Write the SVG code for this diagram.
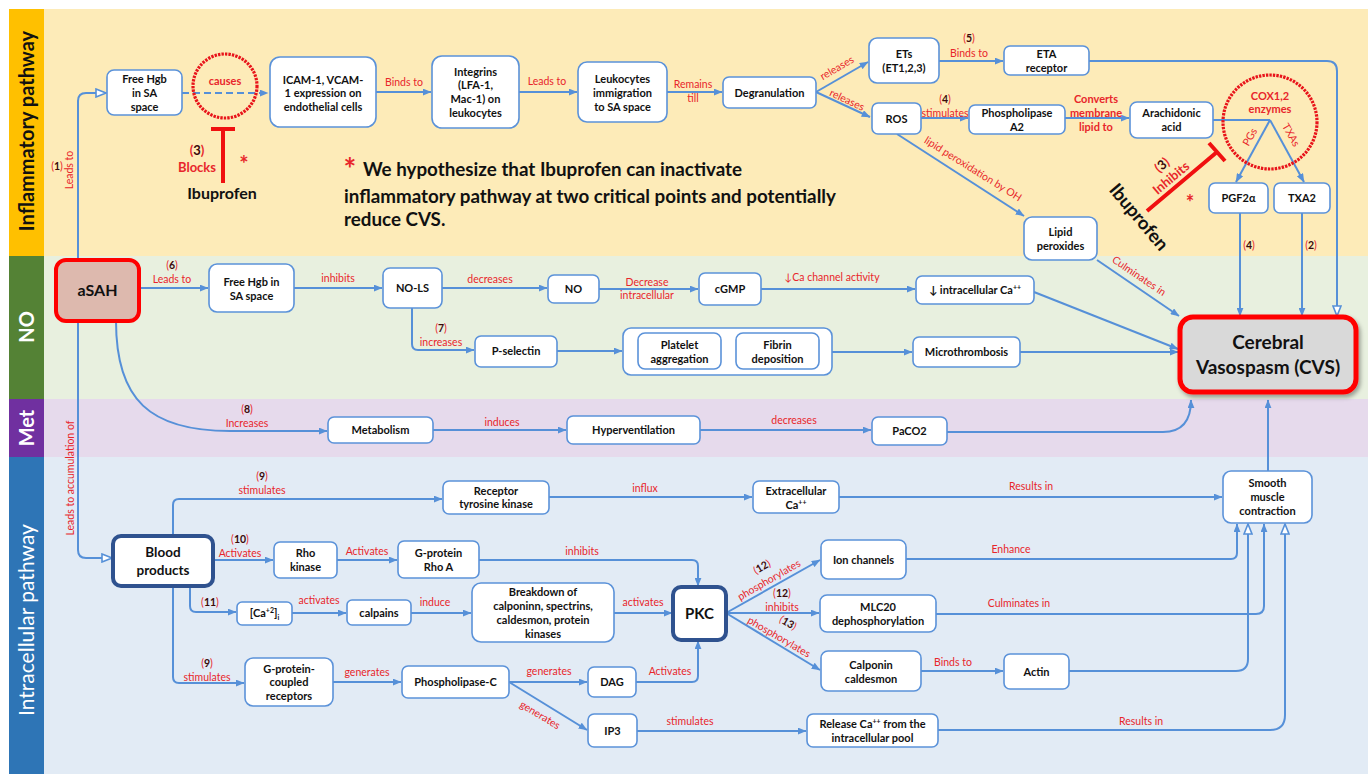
<svg xmlns="http://www.w3.org/2000/svg" width="1368" height="774" viewBox="0 0 1368 774">
<style>
.box{fill:#fff;stroke:#5B92D9;stroke-width:1.6}
.t{font-family:Lato,"Liberation Sans",sans-serif;font-weight:bold;font-size:11px;fill:#111;text-anchor:middle}
.l{font-family:Lato,"Liberation Sans",sans-serif;font-size:10.5px;fill:#E8262B;text-anchor:middle}
.lb{font-family:Lato,"Liberation Sans",sans-serif;font-size:11px;font-weight:bold;fill:#E8262B;text-anchor:middle}
.n{fill:#3A0A0A;font-weight:bold}
.c{fill:none;stroke:#5690D8;stroke-width:2}
.band{font-family:Lato,"Liberation Sans",sans-serif;font-size:20px;font-weight:bold;text-anchor:middle}
.ring{fill:none;stroke:#E8141A;stroke-width:3.2;stroke-dasharray:2.4 1.1}
.inh{stroke:#F01010;stroke-width:4;fill:none}
.hyp{font-family:Lato,"Liberation Sans",sans-serif;font-weight:bold;font-size:18.8px;fill:#111;text-anchor:start}
</style>
<defs>
<marker id="a" viewBox="0 0 10 8" refX="9.5" refY="4" markerWidth="9" markerHeight="7" markerUnits="userSpaceOnUse" orient="auto"><path d="M0,0 L10,4 L0,8 z" fill="#5690D8"/></marker>
<marker id="o" viewBox="0 0 12 10" refX="11" refY="5" markerWidth="12" markerHeight="10" markerUnits="userSpaceOnUse" orient="auto"><path d="M1,1 L11,5 L1,9 z" fill="#fff" stroke="#5690D8" stroke-width="1.6"/></marker>
<filter id="sh" x="-10%" y="-10%" width="125%" height="130%"><feDropShadow dx="2" dy="3" stdDeviation="2" flood-color="#000" flood-opacity="0.35"/></filter>
</defs>
<rect width="1368" height="774" fill="#fff"/>
<g id="lanes">
<rect x="9" y="9" width="1359" height="247" fill="#FDEBB8"/>
<rect x="9" y="256" width="1359" height="143" fill="#E8F0DF"/>
<rect x="9" y="399" width="1359" height="58" fill="#E6DAEC"/>
<rect x="9" y="457" width="1359" height="317" fill="#E2EBF5"/>
<rect x="9" y="9" width="35" height="247" fill="#FFC000"/>
<rect x="9" y="256" width="35" height="143" fill="#548235"/>
<rect x="9" y="399" width="35" height="58" fill="#7030A0"/>
<rect x="9" y="457" width="35" height="317" fill="#2E75B6"/>
<text class="band" transform="translate(26.5,131) rotate(-90)" x="0" y="7" fill="#111">Inflammatory pathway</text>
<text class="band" transform="translate(26.5,327) rotate(-90)" x="0" y="7" fill="#fff">NO</text>
<text class="band" transform="translate(26.5,428) rotate(-90)" x="0" y="7" fill="#fff">Met</text>
<text class="band" transform="translate(26.5,620) rotate(-90)" x="0" y="7" fill="#fff" style="font-weight:normal;font-size:21px">Intracellular pathway</text>
</g>

<g id="connectors">
<path class="c" d="M78,260 L78,101 Q78,93 86,93 L106,93" marker-end="url(#o)"/>
<path class="c" d="M182,93 L268,93" stroke-dasharray="7 4" marker-end="url(#a)"/>
<path class="c" d="M376,92 L431,92" marker-end="url(#a)"/>
<path class="c" d="M519,92 L577,92" marker-end="url(#a)"/>
<path class="c" d="M667,92 L722,92" marker-end="url(#a)"/>
<path class="c" d="M816,92 L868,62" marker-end="url(#a)"/>
<path class="c" d="M816,92 L870,117" marker-end="url(#a)"/>
<path class="c" d="M939,61 L1003,61" marker-end="url(#a)"/>
<path class="c" d="M1089,61 L1327,61 Q1337,61 1337,71 L1337,316" marker-end="url(#o)"/>
<path class="c" d="M921,118 L968,118" marker-end="url(#a)"/>
<path class="c" d="M1065,118 L1129,118" marker-end="url(#a)"/>
<path class="c" d="M1213,120 L1270,120"/>
<path class="c" d="M1270,120 L1236,182" marker-end="url(#a)"/>
<path class="c" d="M1270,120 L1304,182" marker-end="url(#a)"/>
<path class="c" d="M897,134 L1024,216" marker-end="url(#a)"/>
<path class="c" d="M1240,213 L1240,316" marker-end="url(#a)"/>
<path class="c" d="M1302,213 L1302,316" marker-end="url(#a)"/>
<path class="c" d="M1097,260 L1179,316" marker-end="url(#a)"/>
<path class="c" d="M139,288 L208,288" marker-end="url(#a)"/>
<path class="c" d="M294,288 L382,288" marker-end="url(#a)"/>
<path class="c" d="M442,288 L547,288" marker-end="url(#a)"/>
<path class="c" d="M599,289 L698,289" marker-end="url(#a)"/>
<path class="c" d="M761,289 L915,289" marker-end="url(#a)"/>
<path class="c" d="M1034,292 L1178,349" marker-end="url(#a)"/>
<path class="c" d="M412,308 L412,344 Q412,350 418,350 L474,350" marker-end="url(#a)"/>
<path class="c" d="M557,351 L622,351" marker-end="url(#a)"/>
<path class="c" d="M832,352 L912,352" marker-end="url(#a)"/>
<path class="c" d="M1020,352 L1178,352" marker-end="url(#a)"/>
<path class="c" d="M116,321 C116,400 150,431 230,431 L327,431" marker-end="url(#a)"/>
<path class="c" d="M433,430 L566,430" marker-end="url(#a)"/>
<path class="c" d="M700,430 L871,430" marker-end="url(#a)"/>
<path class="c" d="M947,432 L1163,432 Q1191,432 1191,400" marker-end="url(#a)"/>
<path class="c" d="M1268,471 L1268,400" marker-end="url(#a)"/>
<path class="c" d="M78,321 L78,550 Q78,558 86,558 L112,558" marker-end="url(#o)"/>
<path class="c" d="M173,536 L173,505 Q173,499 179,499 L442,499" marker-end="url(#a)"/>
<path class="c" d="M549,497 L752,497" marker-end="url(#a)"/>
<path class="c" d="M839,497 L1222,497" marker-end="url(#a)"/>
<path class="c" d="M213,560 L273,560" marker-end="url(#a)"/>
<path class="c" d="M337,560 L397,560" marker-end="url(#a)"/>
<path class="c" d="M479,560 L692,560 Q698,560 698,566 L698,586" marker-end="url(#a)"/>
<path class="c" d="M190,586 L190,606 Q190,612 196,612 L236,612" marker-end="url(#a)"/>
<path class="c" d="M292,613 L346,613" marker-end="url(#a)"/>
<path class="c" d="M411,613 L471,613" marker-end="url(#a)"/>
<path class="c" d="M614,613 L672,613" marker-end="url(#a)"/>
<path class="c" d="M173,586 L173,677 Q173,683 179,683 L244,683" marker-end="url(#a)"/>
<path class="c" d="M333,682 L401,682" marker-end="url(#a)"/>
<path class="c" d="M509,682 L587,682" marker-end="url(#a)"/>
<path class="c" d="M509,682 L587,730" marker-end="url(#a)"/>
<path class="c" d="M636,682 L692,682 Q698,682 698,676 L698,641" marker-end="url(#a)"/>
<path class="c" d="M637,731 L806,731" marker-end="url(#a)"/>
<path class="c" d="M726,613 L820,560" marker-end="url(#a)"/>
<path class="c" d="M726,613 L819,613" marker-end="url(#a)"/>
<path class="c" d="M726,613 L820,670" marker-end="url(#a)"/>
<path class="c" d="M921,671 L1003,671" marker-end="url(#a)"/>
<path class="c" d="M906,559 L1231,559 Q1237,559 1237,553 L1237,524" marker-end="url(#a)"/>
<path class="c" d="M936,614 L1256,614 Q1264,614 1264,606 L1264,524" marker-end="url(#a)"/>
<path class="c" d="M1069,671 L1236,671 Q1248,671 1248,659 L1248,524" marker-end="url(#o)"/>
<path class="c" d="M938,730 L1270,730 Q1285,730 1285,715 L1285,524" marker-end="url(#o)"/>
</g>

<g id="edge-labels">
<text class="l" transform="translate(69,170) rotate(-90)" x="0" y="3.5">Leads to</text>
<text class="l" x="57" y="170">(<tspan class="n">1</tspan>)</text>
<text class="l" x="404" y="86">Binds to</text>
<text class="l" x="547" y="85">Leads to</text>
<text class="l" x="693" y="88">Remains</text>
<text class="l" x="693" y="102">till</text>
<text class="l" transform="translate(837,68) rotate(-30)" x="0" y="3.5">releases</text>
<text class="l" transform="translate(847,100) rotate(25)" x="0" y="3.5">releases</text>
<text class="l" x="969" y="42">(<tspan class="n">5</tspan>)</text>
<text class="l" x="969" y="57">Binds to</text>
<text class="l" x="945" y="103">(<tspan class="n">4</tspan>)</text>
<text class="l" x="945" y="117">stimulates</text>
<text class="lb" x="1096" y="103">Converts</text>
<text class="lb" x="1096" y="117">membrane</text>
<text class="lb" x="1096" y="131">lipid to</text>
<text class="l" transform="translate(1250,137) rotate(-60)" x="0" y="3.5">PGs</text>
<text class="l" transform="translate(1291,135) rotate(60)" x="0" y="3.5">TXAs</text>
<text class="l" transform="translate(973,169) rotate(32)" x="0" y="3.5">lipid peroxidation by OH</text>
<text class="l" x="1249" y="249">(<tspan class="n">4</tspan>)</text>
<text class="l" x="1311" y="249">(<tspan class="n">2</tspan>)</text>
<text class="l" transform="translate(1139,276) rotate(34)" x="0" y="3.5">Culminates in</text>
<text class="l" x="172" y="269">(<tspan class="n">6</tspan>)</text>
<text class="l" x="172" y="283">Leads to</text>
<text class="l" x="338" y="282">inhibits</text>
<text class="l" x="490" y="283">decreases</text>
<text class="l" x="647" y="286">Decrease</text>
<text class="l" x="647" y="299">intracellular</text>
<text class="l" x="832" y="281">↓Ca channel activity</text>
<text class="l" x="441" y="332">(<tspan class="n">7</tspan>)</text>
<text class="l" x="441" y="346">increases</text>
<text class="l" x="247" y="413">(<tspan class="n">8</tspan>)</text>
<text class="l" x="247" y="427">Increases</text>
<text class="l" x="502" y="426">induces</text>
<text class="l" x="794" y="424">decreases</text>
<text class="l" transform="translate(70,478) rotate(-90)" x="0" y="3.5">Leads to accumulation of</text>
<text class="l" x="262" y="480">(<tspan class="n">9</tspan>)</text>
<text class="l" x="262" y="494">stimulates</text>
<text class="l" x="645" y="492">influx</text>
<text class="l" x="1031" y="490">Results in</text>
<text class="l" x="240" y="543">(<tspan class="n">10</tspan>)</text>
<text class="l" x="240" y="557">Activates</text>
<text class="l" x="367" y="555">Activates</text>
<text class="l" x="582" y="555">inhibits</text>
<text class="l" x="210" y="606">(<tspan class="n">11</tspan>)</text>
<text class="l" x="319" y="604">activates</text>
<text class="l" x="435" y="606">induce</text>
<text class="l" x="643" y="606">activates</text>
<text class="l" x="207" y="667">(<tspan class="n">9</tspan>)</text>
<text class="l" x="207" y="681">stimulates</text>
<text class="l" x="367" y="676">generates</text>
<text class="l" x="549" y="675">generates</text>
<text class="l" x="670" y="675">Activates</text>
<text class="l" transform="translate(540,715) rotate(31)" x="0" y="3.5">generates</text>
<text class="l" x="690" y="725">stimulates</text>
<text class="l" transform="translate(762,567) rotate(-30)" x="0" y="3.5">(<tspan class="n">12</tspan>)</text>
<text class="l" transform="translate(769,580) rotate(-30)" x="0" y="3.5">phosphorylates</text>
<text class="l" x="782" y="597">(<tspan class="n">12</tspan>)</text>
<text class="l" x="782" y="611">inhibits</text>
<text class="l" transform="translate(788,623) rotate(30)" x="0" y="3.5">(<tspan class="n">13</tspan>)</text>
<text class="l" transform="translate(779,637) rotate(30)" x="0" y="3.5">phosphorylates</text>
<text class="l" x="1011" y="553">Enhance</text>
<text class="l" x="1019" y="607">Culminates in</text>
<text class="l" x="953" y="666">Binds to</text>
<text class="l" x="1141" y="725">Results in</text>
</g>

<g id="causes-ring">
<circle class="ring" cx="225" cy="86" r="32"/>
<text class="lb" x="225" y="85">causes</text>
</g>
<g id="ibuprofen-1">
<path class="inh" d="M223,128 L223,183 M211,129 L235,129"/>
<text class="lb" x="197" y="155" style="font-size:13px">(<tspan class="n">3</tspan>)</text>
<text class="lb" x="197" y="172" style="font-size:13px">Blocks</text>
<text class="lb" x="244" y="172" style="font-size:22px">*</text>
<text class="t" x="222" y="199" style="font-size:16px">Ibuprofen</text>
</g>
<g id="hypothesis">
<text class="lb" x="350" y="180" style="font-size:30px">*</text>
<text class="hyp" x="363" y="176">We hypothesize that Ibuprofen can inactivate</text>
<text class="hyp" x="344" y="203">inflammatory pathway at two critical points and potentially</text>
<text class="hyp" x="344" y="226">reduce CVS.</text>
</g>
<g id="cox-ring">
<circle class="ring" cx="1270" cy="122" r="47"/>
<text class="lb" x="1270" y="100">COX1,2</text>
<text class="lb" x="1270" y="113">enzymes</text>
</g>
<g id="ibuprofen-2">
<path class="inh" d="M1147,211 L1217,152 M1209,143 L1225,161"/>
<text class="lb" style="font-size:13px" transform="translate(1162,165) rotate(-40)" x="0" y="4.5">(<tspan class="n">3</tspan>)</text>
<text class="lb" style="font-size:13px" transform="translate(1171,178) rotate(-40)" x="0" y="4.5">Inhibits</text>
<text class="t" style="font-size:18.5px" transform="translate(1139,217) rotate(50)" x="0" y="6.5">Ibuprofen</text>
<text class="lb" x="1190" y="210" style="font-size:20px">*</text>
</g>

<g id="hgb1"><rect class="box" x="107" y="70" width="75" height="45" rx="7"/><text class="t"><tspan x="144.5" y="83">Free Hgb</tspan><tspan x="144.5" y="97">in SA</tspan><tspan x="144.5" y="111">space</tspan></text></g>
<g id="icam"><rect class="box" x="270" y="57" width="106" height="70" rx="10"/><text class="t"><tspan x="323" y="84">ICAM-1, VCAM-</tspan><tspan x="323" y="97">1 expression on</tspan><tspan x="323" y="111">endothelial cells</tspan></text></g>
<g id="integrins"><rect class="box" x="432" y="56" width="87" height="72" rx="10"/><text class="t"><tspan x="475.5" y="76">Integrins</tspan><tspan x="475.5" y="89">(LFA-1,</tspan><tspan x="475.5" y="103">Mac-1) on</tspan><tspan x="475.5" y="117">leukocytes</tspan></text></g>
<g id="leukocytes"><rect class="box" x="578" y="62" width="89" height="60" rx="9"/><text class="t"><tspan x="622.5" y="83">Leukocytes</tspan><tspan x="622.5" y="97">immigration</tspan><tspan x="622.5" y="111">to SA space</tspan></text></g>
<g id="degranulation"><rect class="box" x="723" y="77" width="93" height="31" rx="6"/><text class="t" x="769.5" y="97">Degranulation</text></g>
<g id="ets"><rect class="box" x="869" y="38" width="70" height="45" rx="8"/><text class="t"><tspan x="904" y="58">ETs</tspan><tspan x="904" y="72">(ET1,2,3)</tspan></text></g>
<g id="ros"><rect class="box" x="872" y="103" width="49" height="31" rx="6"/><text class="t" x="896.5" y="123">ROS</text></g>
<g id="eta"><rect class="box" x="1004" y="46" width="85" height="29" rx="6"/><text class="t"><tspan x="1046.5" y="57.5">ETA</tspan><tspan x="1046.5" y="71.5">receptor</tspan></text></g>
<g id="pla2"><rect class="box" x="969" y="105" width="96" height="29" rx="6"/><text class="t"><tspan x="1017" y="117">Phospholipase</tspan><tspan x="1017" y="131">A2</tspan></text></g>
<g id="arachidonic"><rect class="box" x="1130" y="102" width="83" height="36" rx="7"/><text class="t"><tspan x="1171.5" y="117">Arachidonic</tspan><tspan x="1171.5" y="131">acid</tspan></text></g>
<g id="pgf2a"><rect class="box" x="1209" y="183" width="59" height="30" rx="6"/><text class="t" x="1238.5" y="202">PGF2α</text></g>
<g id="txa2"><rect class="box" x="1274" y="183" width="56" height="30" rx="6"/><text class="t" x="1302" y="202">TXA2</text></g>
<g id="lipid"><rect class="box" x="1024" y="217" width="73" height="43" rx="8"/><text class="t"><tspan x="1060.5" y="236">Lipid</tspan><tspan x="1060.5" y="250">peroxides</tspan></text></g>

<g id="asah"><rect x="56" y="260" width="83" height="61" rx="10" fill="#DDB9AE" stroke="#FF0000" stroke-width="4"/><text class="t" x="97.5" y="296" style="font-size:16px">aSAH</text></g>
<g id="hgb2"><rect class="box" x="209" y="264" width="85" height="48" rx="8"/><text class="t"><tspan x="251.5" y="286">Free Hgb in</tspan><tspan x="251.5" y="300">SA space</tspan></text></g>
<g id="nols"><rect class="box" x="383" y="268" width="59" height="40" rx="7"/><text class="t" x="412.5" y="292">NO-LS</text></g>
<g id="no"><rect class="box" x="548" y="275" width="51" height="28" rx="6"/><text class="t" x="573.5" y="293">NO</text></g>
<g id="cgmp"><rect class="box" x="699" y="273" width="62" height="32" rx="6"/><text class="t" x="730" y="293">cGMP</text></g>
<g id="intraca"><rect class="box" x="916" y="276" width="118" height="28" rx="6"/><text class="t" x="975" y="294">↓ intracellular Ca<tspan dy="-4" style="font-size:7px">++</tspan></text></g>
<g id="pselectin"><rect class="box" x="475" y="336" width="82" height="31" rx="6"/><text class="t" x="516" y="355">P-selectin</text></g>
<g id="platelet-group"><rect class="box" x="623" y="328" width="209" height="47" rx="8"/></g>
<g id="platelet"><rect class="box" x="638" y="333" width="83" height="36" rx="7"/><text class="t"><tspan x="679.5" y="349">Platelet</tspan><tspan x="679.5" y="363">aggregation</tspan></text></g>
<g id="fibrin"><rect class="box" x="736" y="333" width="83" height="36" rx="7"/><text class="t"><tspan x="777.5" y="349">Fibrin</tspan><tspan x="777.5" y="363">deposition</tspan></text></g>
<g id="micro"><rect class="box" x="913" y="337" width="107" height="30" rx="6"/><text class="t" x="966.5" y="356">Microthrombosis</text></g>
<g id="cvs"><rect x="1180" y="317" width="176" height="75" rx="13" fill="#D9D9D9" stroke="#FF0000" stroke-width="5" filter="url(#sh)"/><text class="t" style="font-size:19px"><tspan x="1268" y="349">Cerebral</tspan><tspan x="1268" y="374">Vasospasm (CVS)</tspan></text></g>

<g id="metabolism"><rect class="box" x="328" y="417" width="105" height="26" rx="6"/><text class="t" x="380.5" y="434">Metabolism</text></g>
<g id="hyperventilation"><rect class="box" x="567" y="416" width="133" height="28" rx="6"/><text class="t" x="633.5" y="434">Hyperventilation</text></g>
<g id="paco2"><rect class="box" x="872" y="417" width="75" height="28" rx="6"/><text class="t" x="909.5" y="435">PaCO2</text></g>

<g id="blood"><rect x="113" y="536" width="100" height="50" rx="8" fill="#fff" stroke="#2F528F" stroke-width="4"/><text class="t" style="font-size:13.5px"><tspan x="163" y="557">Blood</tspan><tspan x="163" y="575">products</tspan></text></g>
<g id="rtk"><rect class="box" x="443" y="481" width="106" height="33" rx="6"/><text class="t"><tspan x="496" y="495">Receptor</tspan><tspan x="496" y="508">tyrosine kinase</tspan></text></g>
<g id="extca"><rect class="box" x="753" y="481" width="86" height="32" rx="6"/><text class="t"><tspan x="796" y="495">Extracellular</tspan><tspan x="796" y="509">Ca<tspan dy="-4" style="font-size:7px">++</tspan></tspan></text></g>
<g id="smooth"><rect class="box" x="1223" y="471" width="89" height="52" rx="8"/><text class="t"><tspan x="1267.5" y="487">Smooth</tspan><tspan x="1267.5" y="501">muscle</tspan><tspan x="1267.5" y="515">contraction</tspan></text></g>
<g id="rho"><rect class="box" x="274" y="542" width="63" height="36" rx="6"/><text class="t"><tspan x="305.5" y="557">Rho</tspan><tspan x="305.5" y="571">kinase</tspan></text></g>
<g id="gprho"><rect class="box" x="398" y="541" width="81" height="37" rx="6"/><text class="t"><tspan x="438.5" y="557">G-protein</tspan><tspan x="438.5" y="571">Rho A</tspan></text></g>
<g id="ca2"><rect class="box" x="237" y="602" width="55" height="23" rx="5"/><text class="t" x="264.5" y="617">[Ca<tspan dy="-4" style="font-size:7px">+2</tspan><tspan dy="4">]</tspan><tspan dy="3" style="font-size:7px">i</tspan></text></g>
<g id="calpains"><rect class="box" x="347" y="600" width="64" height="25" rx="5"/><text class="t" x="379" y="617">calpains</text></g>
<g id="breakdown"><rect class="box" x="472" y="583" width="142" height="59" rx="9"/><text class="t"><tspan x="543" y="596">Breakdown of</tspan><tspan x="543" y="610">calponinn, spectrins,</tspan><tspan x="543" y="624">caldesmon, protein</tspan><tspan x="543" y="638">kinases</tspan></text></g>
<g id="pkc"><rect x="673" y="587" width="53" height="53" rx="8" fill="#fff" stroke="#2F528F" stroke-width="4"/><text class="t" x="699.5" y="619" style="font-size:15px">PKC</text></g>
<g id="ion"><rect class="box" x="821" y="540" width="85" height="39" rx="7"/><text class="t" x="863.5" y="564">Ion channels</text></g>
<g id="mlc20"><rect class="box" x="820" y="595" width="116" height="37" rx="7"/><text class="t"><tspan x="878" y="611">MLC20</tspan><tspan x="878" y="625">dephosphorylation</tspan></text></g>
<g id="calponin"><rect class="box" x="821" y="651" width="100" height="40" rx="7"/><text class="t"><tspan x="871" y="669">Calponin</tspan><tspan x="871" y="683">caldesmon</tspan></text></g>
<g id="actin"><rect class="box" x="1004" y="654" width="65" height="35" rx="6"/><text class="t" x="1036.5" y="676">Actin</text></g>
<g id="gpcr"><rect class="box" x="245" y="658" width="88" height="48" rx="8"/><text class="t"><tspan x="289" y="673">G-protein-</tspan><tspan x="289" y="686">coupled</tspan><tspan x="289" y="700">receptors</tspan></text></g>
<g id="plc"><rect class="box" x="402" y="666" width="107" height="32" rx="6"/><text class="t" x="455.5" y="686">Phospholipase-C</text></g>
<g id="dag"><rect class="box" x="588" y="667" width="48" height="30" rx="6"/><text class="t" x="612" y="686">DAG</text></g>
<g id="ip3"><rect class="box" x="588" y="714" width="49" height="33" rx="6"/><text class="t" x="612.5" y="735">IP3</text></g>
<g id="release"><rect class="box" x="807" y="714" width="131" height="33" rx="6"/><text class="t"><tspan x="872.5" y="728">Release Ca<tspan dy="-4" style="font-size:7px">++</tspan><tspan dy="4"> from the</tspan></tspan><tspan x="872.5" y="742">intracellular pool</tspan></text></g>
</svg>
